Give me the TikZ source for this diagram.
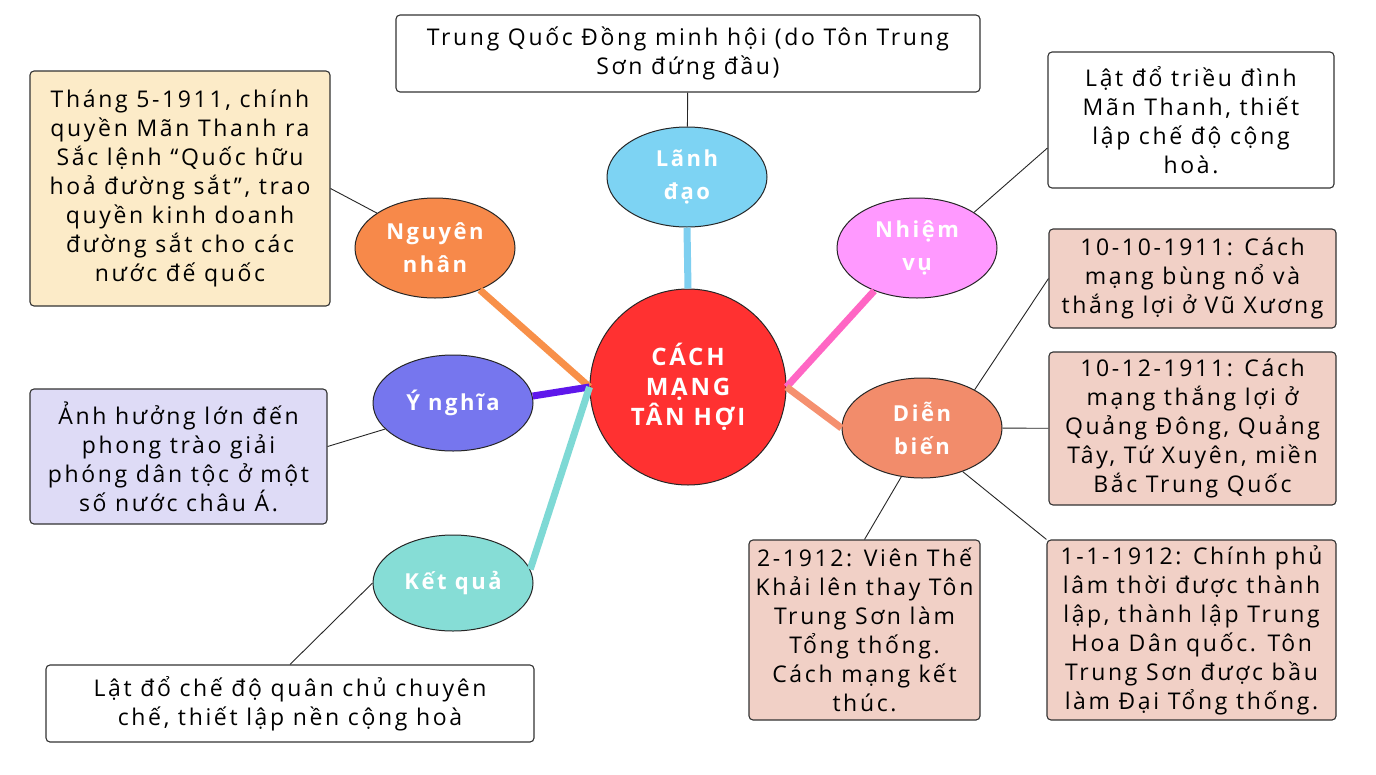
\documentclass[tikz,border=0pt]{standalone}
\usepackage{fontspec}
\setmainfont[LetterSpace=11.5]{Open Sans}
\usetikzlibrary{shapes.geometric}
\definecolor{cmred}{HTML}{FF3131}
\definecolor{ldfill}{HTML}{7DD3F3}
\definecolor{nvfill}{HTML}{FF99FF}
\definecolor{dbfill}{HTML}{F28C6B}
\definecolor{nnfill}{HTML}{F7894A}
\definecolor{ynfill}{HTML}{7676EE}
\definecolor{kqfill}{HTML}{86DDD6}
\definecolor{ldline}{HTML}{7ECFF0}
\definecolor{nvline}{HTML}{FF66C4}
\definecolor{dbline}{HTML}{F5906F}
\definecolor{nnline}{HTML}{F89049}
\definecolor{ynline}{HTML}{5E17EB}
\definecolor{kqline}{HTML}{7ED9D5}
\definecolor{cream}{HTML}{FCEBC8}
\definecolor{lavender}{HTML}{DEDBF6}
\definecolor{blush}{HTML}{F1D0C6}
\begin{document}
\begin{tikzpicture}[x=1pt,y=-1pt,
    topic/.style={ellipse,draw=black!85,line width=1pt,minimum width=160pt,minimum height=100pt,
      inner sep=0pt,text=white,align=center,font=\fontsize{22}{33}\selectfont\bfseries},
    card/.style={rectangle,rounded corners=4pt,draw=black!80,line width=1.1pt,fill=white,
      inner sep=0pt,align=center,font=\fontsize{23}{29}\selectfont},
    spoke/.style={line width=7pt},
    tie/.style={draw=black!85,line width=0.9pt}]
  \useasboundingbox[fill=white] (0,0) rectangle (1376,774);

  \node[circle,draw=black!85,line width=1pt,fill=cmred,minimum size=196pt,text=white,
    align=center,font=\fontsize{24}{30}\selectfont\bfseries] (cm) at (688,387) {CÁCH\\MẠNG\\TÂN HỢI};

  \node[topic,fill=ldfill] (ld) at (687,177) {Lãnh\\đạo};
  \node[topic,fill=nvfill] (nv) at (917,248) {Nhiệm\\vụ};
  \node[topic,fill=dbfill] (db) at (922,428) {Diễn\\biến};
  \node[topic,fill=nnfill] (nn) at (435,248) {Nguyên\\nhân};
  \node[topic,fill=ynfill,minimum height=96pt] (yn) at (453,403) {Ý nghĩa};
  \node[topic,fill=kqfill,minimum height=96pt] (kq) at (453,583) {Kết quả};

  \node[card,minimum width=584pt,minimum height=77pt] (ldbox) at (688,53.5)
    {Trung Quốc Đồng minh hội (do Tôn Trung\\Sơn đứng đầu)};
  \node[card,minimum width=286pt,minimum height=136pt] (nvbox) at (1191,120)
    {Lật đổ triều đình\\Mãn Thanh, thiết\\lập chế độ cộng\\hoà.};
  \node[card,fill=blush,minimum width=287pt,minimum height=99pt] (d1) at (1192.5,278.5)
    {10-10-1911: Cách\\mạng bùng nổ và\\thắng lợi ở Vũ Xương};
  \node[card,fill=blush,minimum width=287pt,minimum height=153pt] (d2) at (1192.5,428.5)
    {10-12-1911: Cách\\mạng thắng lợi ở\\Quảng Đông, Quảng\\Tây, Tứ Xuyên, miền\\Bắc Trung Quốc};
  \node[card,fill=blush,minimum width=289pt,minimum height=180pt] (d3) at (1191.5,630)
    {1-1-1912: Chính phủ\\lâm thời được thành\\lập, thành lập Trung\\Hoa Dân quốc. Tôn\\Trung Sơn được bầu\\làm Đại Tổng thống.};
  \node[card,fill=blush,minimum width=231pt,minimum height=180pt] (d4) at (864.5,630)
    {2-1912: Viên Thế\\Khải lên thay Tôn\\Trung Sơn làm\\Tổng thống.\\Cách mạng kết\\thúc.};
  \node[card,fill=cream,minimum width=300pt,minimum height=235pt] (nnbox) at (180,188.5)
    {Tháng 5-1911, chính\\quyền Mãn Thanh ra\\Sắc lệnh “Quốc hữu\\hoả đường sắt”, trao\\quyền kinh doanh\\đường sắt cho các\\nước đế quốc};
  \node[card,fill=lavender,minimum width=297pt,minimum height=135pt] (ynbox) at (178.5,456.5)
    {Ảnh hưởng lớn đến\\phong trào giải\\phóng dân tộc ở một\\số nước châu Á.};
  \node[card,minimum width=488pt,minimum height=77pt] (kqbox) at (290,703.5)
    {Lật đổ chế độ quân chủ chuyên\\chế, thiết lập nền cộng hoà};

  \foreach \a/\b/\c in {ld.south/cm.north/ldline,nv.225/cm.east/nvline,db.west/cm.east/dbline,
      nn.-43/cm.west/nnline,yn.5/cm.west/ynline,kq.10/cm.west/kqline}
    \draw[spoke,\c] (\a) -- (\b);

  \draw[tie] (ldbox) -- (ld);
  \draw[tie] (nv.32) -- ([yshift=-28pt]nvbox.west);
  \draw[tie] (db.36) -- (d1.west);
  \draw[tie] (db) -- (d2);
  \draw[tie] (db.-47) -- (d3.north west);
  \draw[tie] (db.-113) -- (d4.north);
  \draw[tie] (nnbox.east) -- (nn.149);
  \draw[tie] ([yshift=10pt]ynbox.east) -- (yn.201);
  \draw[tie] (kqbox.north) -- (kq.west);
\end{tikzpicture}
\end{document}
